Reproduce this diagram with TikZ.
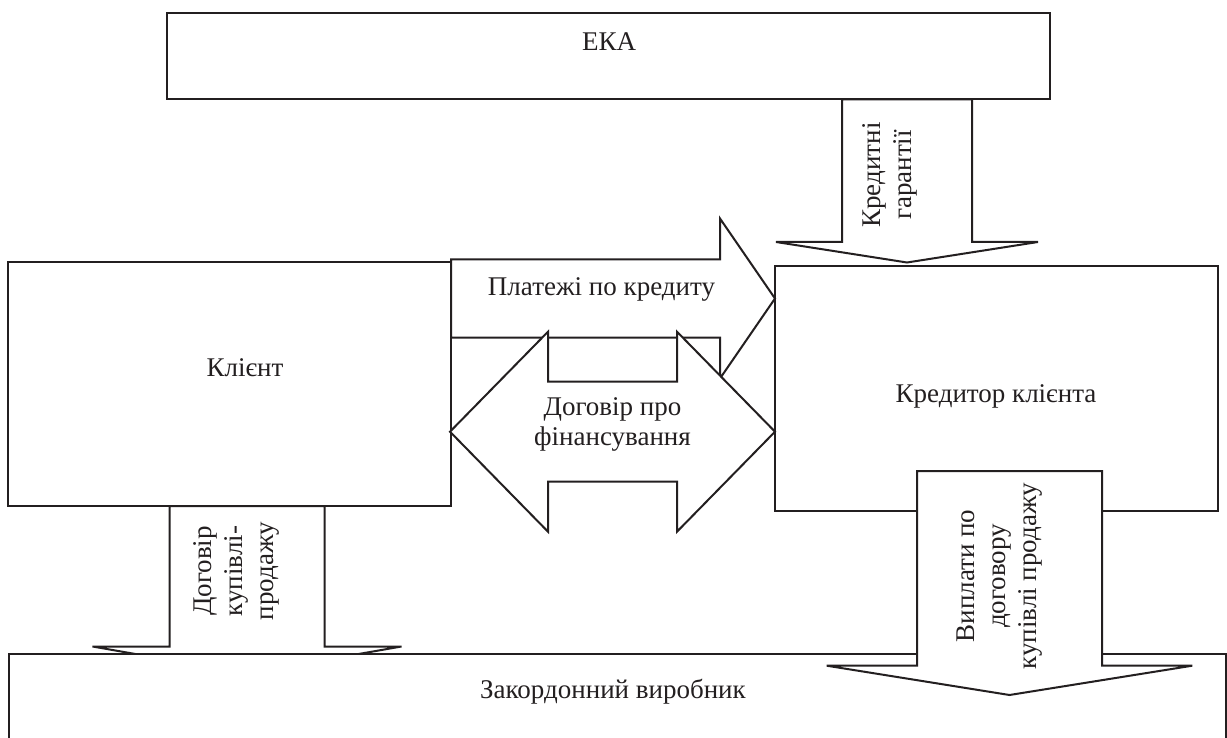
\documentclass[tikz,border=0pt]{standalone}
\usepackage{fontspec}
\setmainfont{Liberation Serif}
\definecolor{ink}{RGB}{35,31,32}
\begin{document}
\begin{tikzpicture}[x=1pt,y=-1pt,
  box/.style={draw=ink, line width=2pt, fill=white, inner sep=0pt, outer sep=0pt, anchor=north west},
  barrow/.style={draw=ink, line width=2pt, fill=white, line join=miter},
  lbl/.style={font=\fontsize{27}{30}\selectfont, text=ink, inner sep=0pt, align=center},
  vlbl/.style={font=\fontsize{27}{31}\selectfont, text=ink, inner sep=0pt, align=center, rotate=90, anchor=center}
]
\useasboundingbox (0,0) rectangle (1227,738);
\clip (0,0) rectangle (1227,738);

% ECA box
\node[box, minimum width=883pt, minimum height=86.5pt] (eka) at (167,13) {};
% credit guarantees arrow
\draw[barrow] (842,99.5) -- (842,242) -- (776,242) -- (907,262.5) -- (1038,242) -- (972,242) -- (972,99.5) -- cycle;

% client and creditor
\node[box, minimum width=443pt, minimum height=244pt] (kl) at (8,262) {};
\node[box, minimum width=443pt, minimum height=244.5pt] (kr) at (775,266.5) {};

% payments arrow
\draw[barrow] (451,259.5) -- (720,259.5) -- (720,218.5) -- (775,298.5) -- (720,378.5) -- (720,337.5) -- (451,337.5) -- cycle;

% financing agreement double arrow
\draw[barrow] (450,431.7) -- (548,331.7) -- (548,381.7) -- (677,381.7) -- (677,331.7) -- (775,431.7)
  -- (677,531.7) -- (677,481.7) -- (548,481.7) -- (548,531.7) -- cycle;

% sale contract arrow
\draw[barrow] (169.5,506) -- (169.5,646.5) -- (92.5,646.5) -- (247,673.5) -- (401.5,646.5) -- (324.5,646.5) -- (324.5,506) -- cycle;

% foreign producer
\node[box, minimum width=1216.5pt, minimum height=130pt] (zv) at (9,653.5) {};

% payments under sale contract arrow
\draw[barrow] (917,471) -- (917,665.7) -- (826.7,665.7) -- (1009.5,695) -- (1192.3,665.7) -- (1102,665.7) -- (1102,471) -- cycle;

% labels
\node[lbl, anchor=base] (tEKA) at (609,51) {ЕКА};
\node[lbl, anchor=base] (tKl) at (245,376) {Клієнт};
\node[lbl, anchor=base] (tKr) at (996,402) {Кредитор клієнта};
\node[lbl, anchor=base] (tZv) at (613,698) {Закордонний виробник};
\node[lbl, anchor=base] (tPl) at (601.5,295.7) {Платежі по кредиту};
\node[lbl, anchor=center] (tDg) at (612.5,424) {Договір про\\фінансування};
\node[vlbl] (tKg) at (890,175) {Кредитні\\гарантії};
\node[vlbl] (tDk) at (236,571) {Договір\\купівлі-\\продажу};
\node[vlbl] (tVp) at (1000,576) {Виплати по\\договору\\купівлі продажу};
\end{tikzpicture}
\end{document}
